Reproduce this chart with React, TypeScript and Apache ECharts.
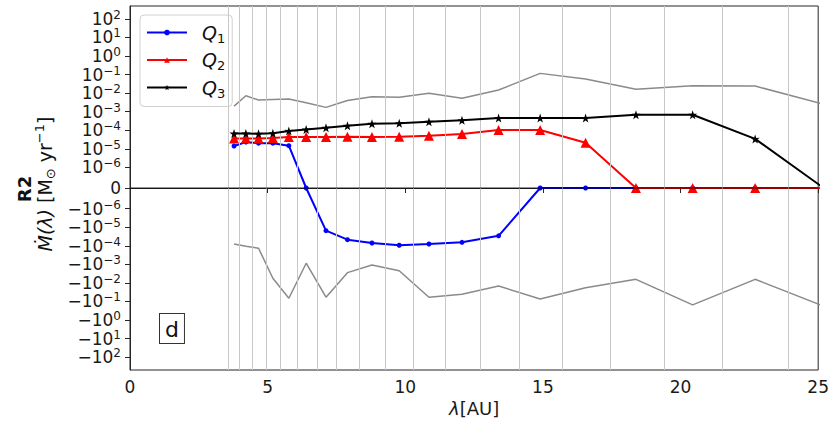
import React, { useEffect, useRef } from 'react';
import * as echarts from 'echarts';

// Ring radii (AU) at which the rates were measured
const LAMBDA = [3.78, 4.21, 4.67, 5.19, 5.77, 6.4, 7.12, 7.9, 8.79, 9.78, 10.86, 12.06, 13.39, 14.9, 16.55, 18.38, 20.44, 22.71, 25.2];
// Mass-flow rates (M_sun / yr)
const Q1 = [1.41e-5, 2.3e-5, 2.0e-5, 2.0e-5, 1.47e-5, 0, -1.54e-5, -4.7e-5, -7.1e-5, -9.4e-5, -8.0e-5, -6.5e-5, -2.9e-5, 0, 0, 0, 0, 0, 0];
const Q2 = [3.6e-5, 3.6e-5, 3.6e-5, 3.8e-5, 4.3e-5, 4.3e-5, 4.3e-5, 4.5e-5, 4.3e-5, 4.5e-5, 5.1e-5, 6.2e-5, 1.03e-4, 1.03e-4, 2.1e-5, 0, 0, 0, 0];
const Q3 = [6.6e-5, 6.6e-5, 6.4e-5, 6.8e-5, 9.2e-5, 1.1e-4, 1.36e-4, 1.75e-4, 2.24e-4, 2.35e-4, 2.86e-4, 3.4e-4, 4.5e-4, 4.5e-4, 4.5e-4, 6.8e-4, 6.8e-4, 3.4e-5, 0];
// Envelope (grey) curves
const UPPER = [2.0e-3, 7.2e-3, 4.2e-3, 4.5e-3, 4.8e-3, 3.0e-3, 1.7e-3, 4.0e-3, 6.4e-3, 5.9e-3, 9.7e-3, 5.2e-3, 1.46e-2, 0.115, 0.057, 0.0159, 0.0248, 0.0239, 2.5e-3];
const LOWER = [-8.0e-5, -1.06e-4, -1.36e-4, -5.6e-3, -0.067, -8.7e-4, -0.059, -2.8e-3, -1.08e-3, -2.2e-3, -0.059, -0.041, -0.0146, -0.073, -0.018, -6.4e-3, -0.153, -6.4e-3, -0.178];
// Ring boundaries (vertical grey lines)
const RING_EDGES = [3.58, 3.98, 4.44, 4.94, 5.45, 6.07, 6.79, 7.5, 8.33, 9.29, 10.28, 11.46, 12.73, 14.13, 15.7, 17.43, 19.4, 21.52, 23.92];
// Tick exponents for the symlog axis
const Y_EXPONENTS = [-6, -5, -4, -3, -2, -1, 0, 1, 2];
const X_MIN = 0;
const X_MAX = 25;
const X_INTERVAL = 5;

const LINTHRESH = 1e-6;
const LINSCALE = 1 / (1 - 1 / 10);
const Y_EXTENT = 9.8;

function symlog(v: number): number {
  const a = Math.abs(v);
  if (a <= LINTHRESH) return (v / LINTHRESH) * LINSCALE;
  return Math.sign(v) * (LINSCALE + Math.log10(a / LINTHRESH));
}

const Y_TICKS = [
  0,
  ...Y_EXPONENTS.map((e) => symlog(Math.pow(10, e))),
  ...Y_EXPONENTS.map((e) => symlog(-Math.pow(10, e))),
];

const FONT = 'DejaVu Sans';
const STAR = 'path://M50,0 L61.8,35.1 L97.6,34.5 L68.8,56.7 L79.4,90.5 L50,70 L20.6,90.5 L31.2,56.7 L2.4,34.5 L38.2,35.1 Z';

function pairs(ys: number[]) {
  return LAMBDA.map((x, i) => [x, symlog(ys[i])]);
}

function yLabel(val: number): string {
  if (Math.abs(val) < 1e-9) return '{b|0}';
  const e = Math.round(Math.abs(val) - LINSCALE) - 6;
  const sign = val < 0 ? '\u2212' : '';
  const es = (e < 0 ? '\u2212' : '') + Math.abs(e);
  return `{b|${sign}10}{sup|${es}}`;
}

export default function App() {
  const ref = useRef<HTMLDivElement>(null);
  useEffect(() => {
    if (!ref.current) return;
    const chart = echarts.init(ref.current, undefined, { renderer: 'svg' });
    const axisColor = '#262626';
    chart.setOption({
      animation: false,
      backgroundColor: '#ffffff',
      textStyle: { fontFamily: FONT },
      grid: {
        left: 130, right: 13, top: 6, bottom: 53,
        show: true, borderColor: axisColor, borderWidth: 1, backgroundColor: 'transparent',
      },
      legend: {
        data: ['Q1', 'Q2', 'Q3'],
        orient: 'vertical',
        left: 140, top: 15,
        itemWidth: 40, itemHeight: 7, itemGap: 6,
        padding: [8, 7, 7, 6],
        backgroundColor: 'rgba(255,255,255,0.8)',
        borderColor: '#d0d0d0', borderWidth: 1, borderRadius: 4,
        formatter: (n: string) => `{q|Q}{s|${n.slice(1)}}`,
        textStyle: {
          fontFamily: FONT,
          rich: {
            q: { fontSize: 19, fontStyle: 'italic', fontFamily: FONT, color: '#111', padding: [0, 0, 0, 10], lineHeight: 24 },
            s: { fontSize: 13, fontFamily: FONT, color: '#111', verticalAlign: 'bottom', lineHeight: 22 },
          },
        },
      },
      xAxis: {
        type: 'value', min: X_MIN, max: X_MAX, interval: X_INTERVAL,
        axisLine: { show: true, lineStyle: { color: axisColor, width: 1 } },
        axisTick: { show: true, length: 5, lineStyle: { color: axisColor } },
        axisLabel: { fontSize: 17, color: '#1a1a1a', margin: 8, fontFamily: FONT },
        splitLine: { show: false },
        name: '{i|\u03bb}{n|[AU]}',
        nameLocation: 'middle',
        nameGap: 29,
        nameTextStyle: {
          rich: {
            i: { fontSize: 18, fontStyle: 'italic', fontFamily: FONT, color: '#1a1a1a' },
            n: { fontSize: 18, fontFamily: FONT, color: '#1a1a1a' },
          },
        },
      },
      yAxis: {
        type: 'value', min: -Y_EXTENT, max: Y_EXTENT,
        axisLine: { show: true, onZero: false, lineStyle: { color: axisColor, width: 1 } },
        axisTick: { show: true, length: 5, customValues: Y_TICKS, lineStyle: { color: axisColor } },
        axisLabel: {
          customValues: Y_TICKS,
          formatter: yLabel,
          margin: 9,
          rich: {
            b: { fontSize: 17, color: '#1a1a1a', fontFamily: FONT, lineHeight: 20 },
            sup: { fontSize: 12, color: '#1a1a1a', fontFamily: FONT, verticalAlign: 'top', lineHeight: 12 },
          },
        },
        splitLine: { show: false },
      },
      graphic: [
        {
          type: 'text', x: 24, y: 189, rotation: Math.PI / 2,
          style: { text: 'R2', fontSize: 18, fontWeight: 'bold', fontFamily: FONT, fill: '#111', align: 'center', verticalAlign: 'middle' },
        },
        {
          type: 'text', x: 45, y: 184, rotation: Math.PI / 2,
          style: {
            text: '{i|\u1e40(\u03bb)}{n| [M}{sub|\u2299}{n| yr}{sup|\u22121}{n|]}',
            align: 'center', verticalAlign: 'middle',
            rich: {
              i: { fontSize: 19, fontStyle: 'italic', fontFamily: FONT, fill: '#111', lineHeight: 24 },
              n: { fontSize: 19, fontFamily: FONT, fill: '#111', lineHeight: 24 },
              sub: { fontSize: 13, fontFamily: FONT, fill: '#111', verticalAlign: 'bottom', lineHeight: 24 },
              sup: { fontSize: 13, fontFamily: FONT, fill: '#111', verticalAlign: 'top', lineHeight: 14 },
            },
          },
        },
        {
          type: 'text', left: 159, top: 313,
          style: {
            text: 'd', fontSize: 22, fontFamily: FONT, fill: '#111', lineHeight: 22,
            padding: [4, 5, 3, 5], borderColor: '#333', borderWidth: 1, backgroundColor: '#fff',
          },
        },
      ],
      series: [
        {
          name: 'ring-edges', type: 'line', data: [], silent: true, z: 1,
          markLine: {
            silent: true, symbol: ['none', 'none'], label: { show: false },
            lineStyle: { color: '#c8c8c8', width: 1, type: 'solid' },
            emphasis: { disabled: true },
            data: RING_EDGES.map((x) => ({ xAxis: x })),
          },
        },
        {
          name: 'upper', type: 'line', data: pairs(UPPER), showSymbol: false, symbol: 'none', z: 2,
          lineStyle: { color: '#8a8a8a', width: 1.5 },
        },
        {
          name: 'lower', type: 'line', data: pairs(LOWER), showSymbol: false, symbol: 'none', z: 2,
          lineStyle: { color: '#8a8a8a', width: 1.5 },
        },
        {
          name: 'Q1', type: 'line', data: pairs(Q1), z: 3,
          symbol: 'circle', symbolSize: 5,
          lineStyle: { color: '#0000ff', width: 2 }, itemStyle: { color: '#0000ff' },
        },
        {
          name: 'Q2', type: 'line', data: pairs(Q2), z: 4,
          symbol: 'triangle', symbolSize: 10,
          lineStyle: { color: '#ff0000', width: 2 }, itemStyle: { color: '#ff0000' },
        },
        {
          name: 'Q3', type: 'line', data: pairs(Q3), z: 5,
          symbol: STAR, symbolSize: 9,
          lineStyle: { color: '#000000', width: 2 }, itemStyle: { color: '#000000' },
        },
        {
          name: 'zero', type: 'line', data: [], silent: true, z: 6,
          markLine: {
            silent: true, symbol: ['none', 'none'], label: { show: false },
            lineStyle: { color: 'rgba(0,0,0,0.55)', width: 1.5, type: 'solid' },
            emphasis: { disabled: true },
            data: [{ yAxis: 0 }],
          },
        },
      ],
    });
    return () => chart.dispose();
  }, []);
  return (
    <div
      ref={ref}
      style={{ position: 'fixed', left: 0, top: 0, width: 832, height: 423, background: '#fff' }}
    />
  );
}
